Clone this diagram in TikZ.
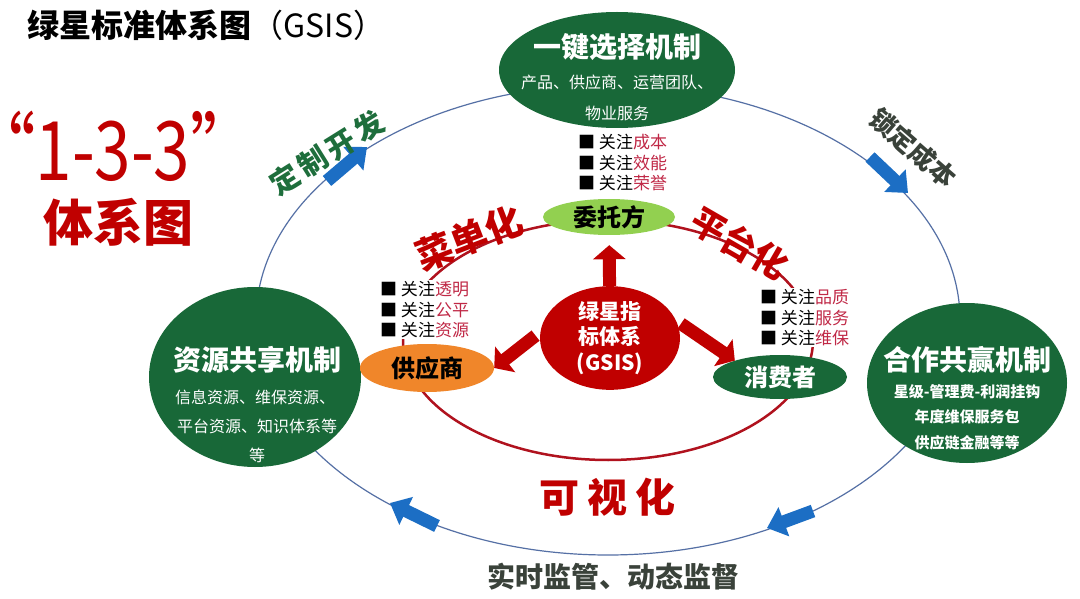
\documentclass[tikz,border=0pt]{standalone}
\usepackage{fontspec}
\setmainfont{Noto Sans CJK SC}
\usetikzlibrary{shapes.geometric,arrows.meta}
\definecolor{dkgreen}{RGB}{24,104,56}
\definecolor{ltgreen}{RGB}{146,208,80}
\definecolor{orng}{RGB}{240,134,42}
\definecolor{dred}{RGB}{192,0,0}
\definecolor{bred}{RGB}{176,18,30}
\definecolor{crim}{RGB}{192,40,70}
\definecolor{bblue}{RGB}{28,110,196}
\definecolor{eblue}{RGB}{85,112,165}
\definecolor{txtgreen}{RGB}{30,110,60}
\definecolor{txtgray}{RGB}{58,66,58}
\newcommand\myfs[1]{\fontsize{#1}{#1}\selectfont}
\begin{document}
\begin{tikzpicture}[x=1pt,y=-1pt,
  ell/.style={ellipse, inner sep=0pt, draw=none},
  bigtitle/.style={white, font=\bfseries\myfs{28}},
  subtxt/.style={white, font=\myfs{16}},
  subtxtb/.style={white, font=\bfseries\myfs{15}},
  bullets/.style={align=left, anchor=north west, inner sep=1pt, font=\fontsize{17}{20.5}\selectfont},
  redarr/.style={dred, line width=13pt, -{Triangle[length=14pt,width=32pt]}},
  bluearr/.style={bblue, line width=13pt, -{Triangle[length=18pt,width=30pt]}},
  curvelbl/.style={dred, font=\bfseries\myfs{37}}]
\fill[white] (0,0) rectangle (1080,599);
\useasboundingbox (0,0) rectangle (1080,599);

% outer ellipse
\draw[eblue, line width=1.2pt] (608,320) ellipse [x radius=352, y radius=235];
% inner red ellipse
\draw[bred, line width=2.5pt] (608,340) ellipse [x radius=205, y radius=120];

% bullets (white background hides the red ring)
\node[bullets] (btop) at (577,133) {■ 关注\textcolor{crim}{成本}\\■ 关注\textcolor{crim}{效能}\\■ 关注\textcolor{crim}{荣誉}};
\node[bullets, fill=white] (bleft) at (379,280) {■ 关注\textcolor{crim}{透明}\\■ 关注\textcolor{crim}{公平}\\■ 关注\textcolor{crim}{资源}};
\node[bullets, fill=white] (bright) at (759,288) {■ 关注\textcolor{crim}{品质}\\■ 关注\textcolor{crim}{服务}\\■ 关注\textcolor{crim}{维保}};

% big green mechanism nodes
\node[ell, fill=dkgreen, minimum width=236pt, minimum height=116pt] (yjxz) at (617,70) {};
\node[bigtitle] (yjxzt) at (617,47) {一键选择机制};
\node[subtxt] (yjxz1) at (617,82) {产品、供应商、运营团队、};
\node[subtxt] (yjxz2) at (617,113) {物业服务};

\node[ell, fill=dkgreen, minimum width=212pt, minimum height=180pt] (zygx) at (255,377) {};
\node[bigtitle] (zygxt) at (257,360) {资源共享机制};
\node[subtxt] (zygx1) at (255,397) {信息资源、维保资源、};
\node[subtxt] (zygx2) at (257,426) {平台资源、知识体系等};
\node[subtxt] (zygx3) at (257,455) {等};

\node[ell, fill=dkgreen, minimum width=200pt, minimum height=160pt] (hzgy) at (967,383) {};
\node[bigtitle] (hzgyt) at (967,360) {合作共赢机制};
\node[subtxtb] (hzgy1) at (967,392) {星级-管理费-利润挂钩};
\node[subtxtb] (hzgy2) at (967,417) {年度维保服务包};
\node[subtxtb] (hzgy3) at (967,443) {供应链金融等等};

% inner nodes
\node[ell, fill=ltgreen, minimum width=132pt, minimum height=36pt, font=\bfseries\myfs{24}] (wtf) at (609,217) {委托方};
\node[ell, fill=orng, minimum width=134pt, minimum height=48pt, font=\bfseries\myfs{24}] (gys) at (427,368) {供应商};
\node[ell, fill=dkgreen, minimum width=134pt, minimum height=44pt, text=white, font=\bfseries\myfs{24}] (xfz) at (780,377) {消费者};
\node[ell, fill=dred, minimum width=140pt, minimum height=100pt, text=white, align=center, font=\bfseries\fontsize{21}{25.5}\selectfont] (gsis) at (610,338) {绿星指\\标体系\\(GSIS)};

% red arrows
\draw[redarr, shorten >=10pt] (gsis) -- (wtf);
\draw[redarr, shorten <=6pt] (gsis.175) -- (gys.east);
\draw[redarr, shorten <=6pt] (gsis.15) -- (xfz.160);

% blue arrows on the outer ring
\draw[bluearr] (327,181) -- (367,147);
\draw[bluearr] (870,157) -- (908,193);
\draw[bluearr] (437,526) -- (390,503);
\draw[bluearr] (813,511) -- (767,528);

% labels
\node[anchor=west, font=\myfs{32}] (title) at (24,25) {\bfseries 绿星标准体系图\mdseries（GSIS）};
\node[dred, font=\myfs{82}, xscale=0.8] (n133) at (113,146) {“1-3-3”};
\node[dred, font=\bfseries\myfs{50}] (txt) at (118,222) {体系图};

\node[txtgreen, font=\bfseries\myfs{29}, rotate=32] (dzkf) at (327,153) {定\hspace{4pt}制\hspace{4pt}开\hspace{4pt}发};
\node[txtgray, font=\bfseries\myfs{26}, rotate=-41] (sdcb) at (913,148) {锁定成本};
\node[curvelbl, rotate=21] (cdh) at (469,238) {菜单化};
\node[curvelbl, rotate=-30, font=\bfseries\myfs{35}] (ptph) at (740,243) {平台化};
\node[dred, font=\bfseries\myfs{40}] (ksh) at (607,497) {可\hspace{8pt}视\hspace{8pt}化};
\node[txtgray, font=\bfseries\myfs{28}] (ssjg) at (613,577) {实时监管、动态监督};
\end{tikzpicture}
\end{document}
